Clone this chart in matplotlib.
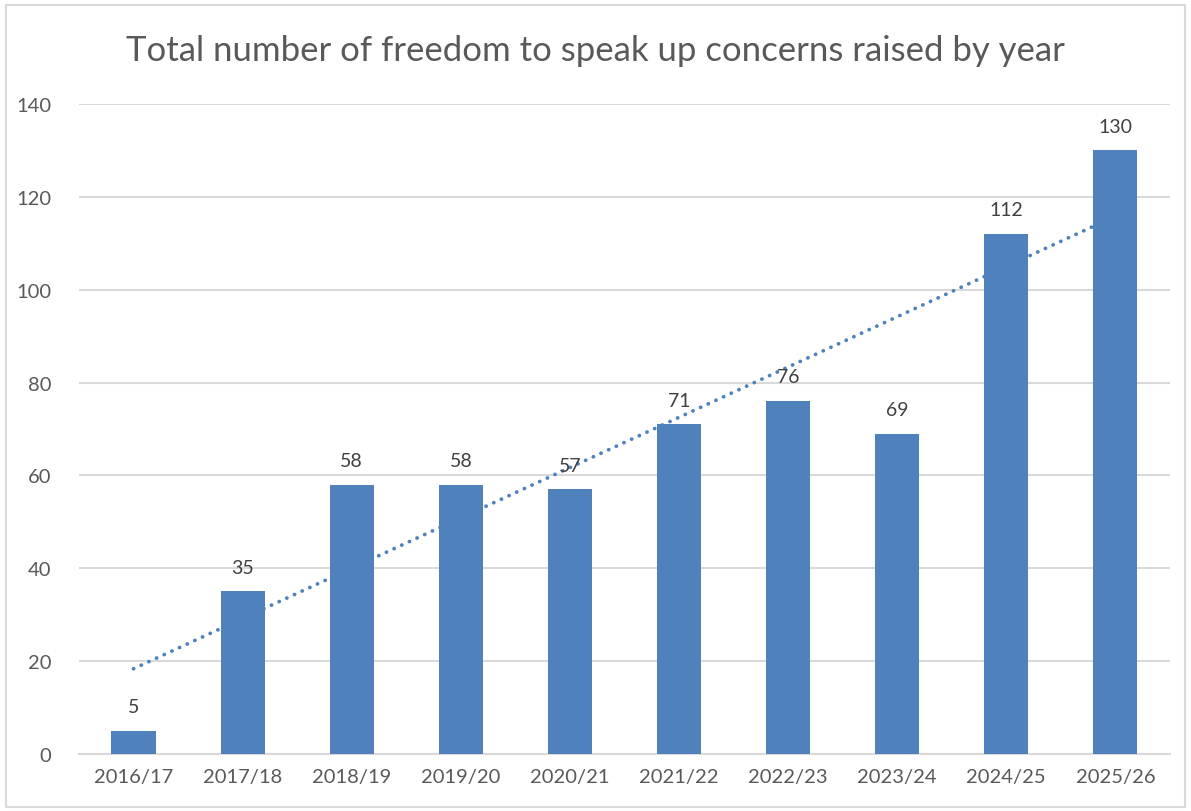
import matplotlib
matplotlib.use("Agg")
import matplotlib.pyplot as plt
import numpy as np
from matplotlib.patches import Rectangle

# Concerns raised per financial year
years = ["2016/17", "2017/18", "2018/19", "2019/20", "2020/21",
         "2021/22", "2022/23", "2023/24", "2024/25", "2025/26"]
concerns = [5, 35, 58, 58, 57, 71, 76, 69, 112, 130]

plt.rcParams["font.family"] = ["Lato", "DejaVu Sans"]

fig = plt.figure(figsize=(11.91, 8.12), dpi=100)
ax = fig.add_axes([0.0663, 0.0702, 0.916, 0.8005])

x = np.arange(len(years))
bar_color = "#4F81BD"

# Linear trendline, drawn under the bars
slope, intercept = np.polyfit(x, concerns, 1)
ax.plot(x, slope * x + intercept, color=bar_color, linestyle=(0, (0.05, 2.2)),
        linewidth=2.7, dash_capstyle="round", zorder=2)

bars = ax.bar(x, concerns, width=0.405, color=bar_color, zorder=3)
for xi, v in zip(x, concerns):
    ax.text(xi, v + 3.4, str(v), ha="center", va="bottom",
            fontsize=14, color="#404040", zorder=4)

ax.set_xlim(-0.5, len(years) - 0.5)
ax.set_ylim(0, 140)
ax.set_yticks(range(0, 141, 20))
ax.set_xticks(x)
ax.set_xticklabels(years)
ax.yaxis.grid(True, color="#D9D9D9", linewidth=1.5, zorder=0)
ax.set_axisbelow(True)
for side in ["top", "right", "left"]:
    ax.spines[side].set_visible(False)
ax.spines["bottom"].set_color("#D9D9D9")
ax.spines["bottom"].set_linewidth(1.5)
ax.tick_params(axis="both", length=0, labelsize=14.5, colors="#595959")
ax.tick_params(axis="y", pad=20)
ax.tick_params(axis="x", pad=10)

fig.text(0.5, 0.937, "Total number of freedom to speak up concerns raised by year",
         ha="center", va="center", fontsize=25, color="#595959")

# light chart border
fig.patches.append(Rectangle((6 / 1191, 4 / 812), 1179 / 1191, 802 / 812,
                             transform=fig.transFigure, fill=False,
                             edgecolor="#D9D9D9", linewidth=1.5))

fig.savefig("out.png", dpi=100)
